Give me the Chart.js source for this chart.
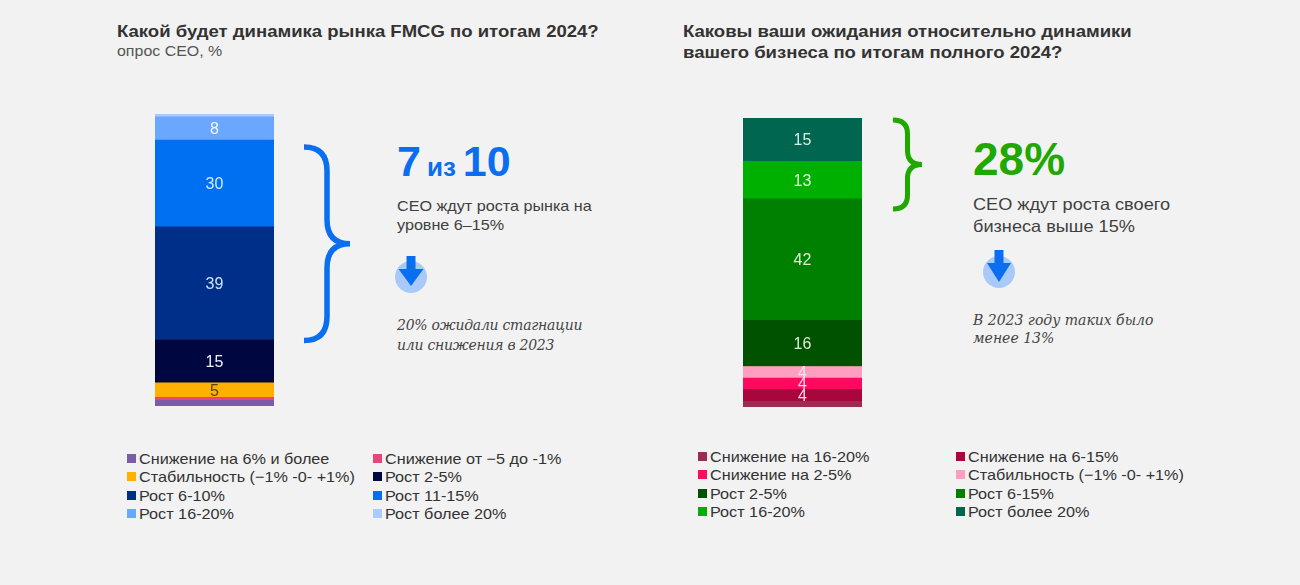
<!DOCTYPE html>
<html>
<head>
<meta charset="utf-8">
<script src="https://cdn.jsdelivr.net/npm/chart.js@4.4.1/dist/chart.umd.min.js"></script>
<style>
  html, body { margin: 0; padding: 0; background: #f2f2f2; }
  #page { position: relative; width: 1300px; height: 585px; overflow: hidden; font-family: "Liberation Sans", Arial, sans-serif; color: #333; }
  .abs { position: absolute; white-space: nowrap; transform-origin: 0 0; }
  .title { font-size: 17px; font-weight: bold; line-height: 21.5px; color: #333; transform: scaleX(1.09); }
  .sub { font-size: 14.5px; line-height: 14px; color: #555; transform: scaleX(1.1); }
  .note { font-size: 15px; line-height: 18.5px; color: #404040; transform: scaleX(1.077); }
  .quote { font-family: "DejaVu Serif", "Liberation Serif", serif; font-style: italic; font-size: 14px; color: #444; }
  .legend { position: absolute; display: grid; font-size: 15px; color: #333; }
  .legend .item { display: flex; align-items: center; height: 18.5px; white-space: nowrap; }
  .legend .box { width: 9px; height: 9px; margin-right: 3px; flex: none; }
  .legend .txt { display: inline-block; transform: scaleX(1.08); transform-origin: 0 50%; }
  canvas { position: absolute; }
</style>
</head>
<body>
<div id="page">
  <div class="abs title" style="left:117px; top:20.5px;">Какой будет динамика рынка FMCG по итогам 2024?</div>
  <div class="abs sub" style="left:117px; top:44px;">опрос CEO, %</div>

  <div class="abs title" style="left:683px; top:20.5px;">Каковы ваши ожидания относительно динамики<br>вашего бизнеса по итогам полного 2024?</div>

  <canvas id="marketChart" width="280" height="320" style="left:100px; top:100px;"></canvas>
  <canvas id="businessChart" width="280" height="320" style="left:680px; top:100px;"></canvas>

  <!-- left callout -->
  <div class="abs" style="left:397px; top:139.5px; font-size:43px; line-height:43px; font-weight:bold; color:#0a6ef0;">7<span style="font-size:26px; margin:0 7px 0 6px;">из</span>10</div>
  <div class="abs note" style="left:397px; top:197px;">СЕО ждут роста рынка на<br>уровне 6–15%</div>
  <svg class="abs" style="left:391px; top:247px;" width="40" height="50">
    <circle cx="20" cy="30" r="16" fill="#a9c9f9"/>
    <rect x="15.5" y="9" width="9" height="14" fill="#0a6ef0"/>
    <polygon points="7.5,22 32.5,22 20,39" fill="#0a6ef0"/>
  </svg>
  <div class="abs quote" style="left:397px; top:315px; line-height:20px; letter-spacing:-0.25px;">20% ожидали стагнации<br>или снижения в 2023</div>

  <!-- right callout -->
  <div class="abs" style="left:973px; top:136px; font-size:46px; line-height:46px; font-weight:bold; color:#1fa800;">28%</div>
  <div class="abs note" style="left:973px; top:193.3px; font-size:16.5px; line-height:22px; transform:scaleX(1.1);">СЕО ждут роста своего<br>бизнеса выше 15%</div>
  <svg class="abs" style="left:979px; top:242px;" width="40" height="50">
    <circle cx="20" cy="30" r="16" fill="#a9c9f9"/>
    <rect x="15.5" y="8" width="9" height="15" fill="#0a6ef0"/>
    <polygon points="8,21 32,21 20,40" fill="#0a6ef0"/>
  </svg>
  <div class="abs quote" style="left:973px; top:311px; line-height:18px;">В 2023 году таких было<br>менее 13%</div>

  <div id="marketLegend" class="legend" style="left:127px; top:449px; grid-template-columns:246px 200px;"></div>
  <div id="businessLegend" class="legend" style="left:698px; top:447px; grid-template-columns:258px 260px;"></div>
</div>

<script>
// left chart: market dynamics, bottom -> top of the stack
var marketLabels = ['Снижение на 6% и более', 'Снижение от −5 до -1%', 'Стабильность (−1% -0- +1%)', 'Рост 2-5%', 'Рост 6-10%', 'Рост 11-15%', 'Рост 16-20%', 'Рост более 20%'];
var marketValues = [2, 1, 5, 15, 39, 30, 8, 1];
var marketColors = ['#7a5ca8', '#e8457a', '#ffb000', '#000640', '#002f8a', '#0070f2', '#6aa8ff', '#a9cbff'];
var marketTextColors = ['#fff', '#fff', '#5c4400', '#eef0ff', '#cfe0ff', '#dbe8ff', '#f4f8ff', '#fff'];

// right chart: own business expectations, bottom -> top of the stack
var businessLabels = ['Снижение на 16-20%', 'Снижение на 6-15%', 'Снижение на 2-5%', 'Стабильность (−1% -0- +1%)', 'Рост 2-5%', 'Рост 6-15%', 'Рост 16-20%', 'Рост более 20%'];
var businessValues = [2, 4, 4, 4, 16, 42, 13, 15];
var businessColors = ['#9a2d50', '#aa063e', '#ff0a5e', '#ff9ec0', '#005200', '#008000', '#00b000', '#006650'];
var businessTextColors = ['#fff', '#f4dce4', '#f8dce8', '#f8e4ec', '#dcecd4', '#dcecd4', '#e4f4dc', '#dcece4'];

var categories = [''];

// numbers inside the segments
var valueLabels = {
  id: 'valueLabels',
  afterDatasetsDraw: function(chart, args, opts) {
    var ctx = chart.ctx;
    ctx.save();
    ctx.font = opts.size + 'px "Liberation Sans", Arial, sans-serif';
    ctx.textAlign = 'center';
    ctx.textBaseline = 'middle';
    chart.data.datasets.forEach(function(ds, i) {
      var v = ds.data[0];
      if (v < opts.min) return;
      var el = chart.getDatasetMeta(i).data[0];
      ctx.fillStyle = opts.colors[i];
      ctx.fillText(v, el.x, (el.y + el.base) / 2 + 1);
    });
    ctx.restore();
  }
};

// curly brace to the right of a group of segments
var brace = {
  id: 'brace',
  afterDatasetsDraw: function(chart, args, o) {
    var top = chart.getDatasetMeta(o.to).data[0].y + o.topInset;
    var bot = chart.getDatasetMeta(o.from).data[0].base + o.bottomInset;
    var x0 = chart.chartArea.right + o.gap;
    var x1 = x0 + o.depth;
    var xm = x0 + o.depth / 2;
    var mid = (top + bot) / 2;
    var r = o.radius;
    var ctx = chart.ctx;
    ctx.save();
    ctx.strokeStyle = o.color;
    ctx.lineWidth = o.width;
    ctx.beginPath();
    ctx.moveTo(x0, top);
    ctx.quadraticCurveTo(xm, top, xm, top + r);
    ctx.lineTo(xm, mid - r);
    ctx.quadraticCurveTo(xm, mid, x1, mid);
    ctx.quadraticCurveTo(xm, mid, xm, mid + r);
    ctx.lineTo(xm, bot - r);
    ctx.quadraticCurveTo(xm, bot, x0, bot);
    ctx.stroke();
    ctx.restore();
  }
};

function sum(arr) {
  return arr.reduce(function(a, b) { return a + b; }, 0);
}

function makeChart(id, labels, values, colors, textColors, padding, braceOpts) {
  var datasets = labels.map(function(l, i) {
    return {
      label: l,
      data: [values[i]],
      backgroundColor: colors[i],
      borderWidth: 0,
      barPercentage: 1,
      categoryPercentage: 1
    };
  });
  return new Chart(document.getElementById(id), {
    type: 'bar',
    data: { labels: categories, datasets: datasets },
    options: {
      responsive: false,
      animation: false,
      layout: { padding: padding },
      scales: {
        x: { stacked: true, display: false },
        y: { stacked: true, display: false, min: 0, max: sum(values) }
      },
      plugins: {
        legend: { display: false },
        tooltip: { enabled: false },
        valueLabels: { min: 4, size: 16, colors: textColors },
        brace: braceOpts
      }
    },
    plugins: [valueLabels, brace]
  });
}

function buildLegend(elId, labels, colors) {
  var html = '';
  labels.forEach(function(l, i) {
    html += '<div class="item"><span class="box" style="background:' + colors[i] + '"></span><span class="txt">' + l + '</span></div>';
  });
  document.getElementById(elId).innerHTML = html;
}

makeChart('marketChart', marketLabels, marketValues, marketColors, marketTextColors,
  { left: 55, right: 106, top: 14, bottom: 14 },
  { from: 4, to: 5, gap: 30, depth: 46, radius: 24, topInset: 7, bottomInset: 1, color: '#0a6ef0', width: 5.5 });

makeChart('businessChart', businessLabels, businessValues, businessColors, businessTextColors,
  { left: 63, right: 98, top: 18, bottom: 13 },
  { from: 6, to: 7, gap: 31, depth: 29, radius: 14, topInset: 2, bottomInset: 10, color: '#1fa800', width: 5 });

buildLegend('marketLegend', marketLabels, marketColors);
buildLegend('businessLegend', businessLabels, businessColors);
</script>
</body>
</html>
